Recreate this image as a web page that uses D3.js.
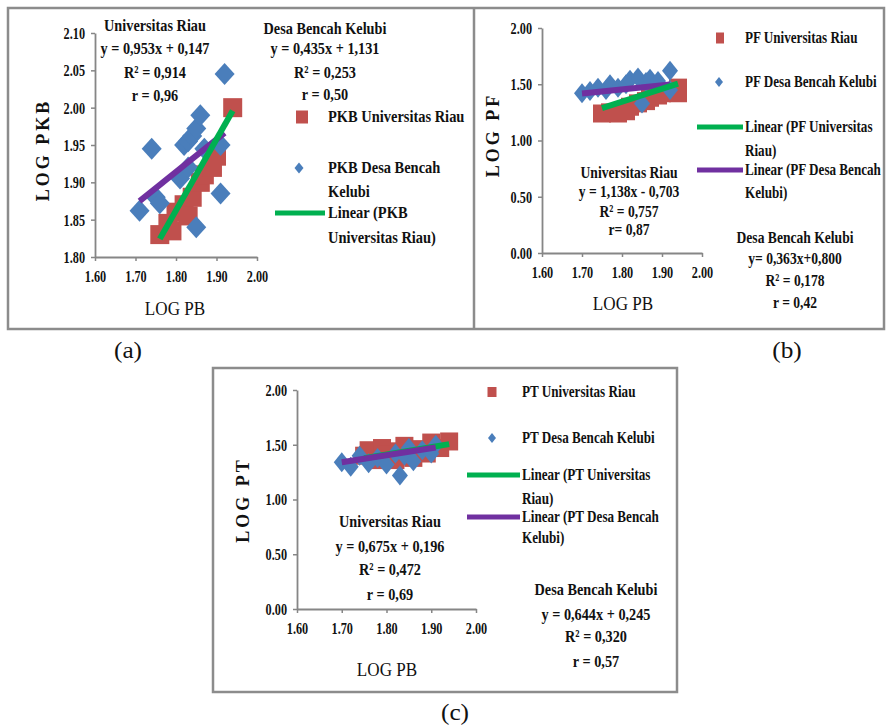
<!DOCTYPE html>
<html><head><meta charset="utf-8">
<script src="https://cdn.jsdelivr.net/npm/d3@7"></script>
<style>
body{margin:0;background:#fff}
svg{display:block}
text{font-family:"Liberation Serif","Times New Roman",serif;fill:#111}
</style>
</head><body>
<svg id="chart" width="888" height="726"></svg>
<script>
// ---------- DATA ----------
const xTicks = [1.60, 1.70, 1.80, 1.90, 2.00];
const yTicksA = [1.80, 1.85, 1.90, 1.95, 2.00, 2.05, 2.10];
const yTicksBC = [0.00, 0.50, 1.00, 1.50, 2.00];

// (a) LOG PKB vs LOG PB
const pkbRiau = [[1.76,1.83],[1.78,1.845],[1.79,1.835],[1.80,1.86],[1.82,1.87],[1.83,1.855],[1.84,1.88],[1.86,1.90],[1.87,1.91],[1.89,1.92],[1.90,1.935],[1.94,2.00]];
const pkbDesa = [[1.71,1.862],[1.74,1.945],[1.75,1.88],[1.76,1.872],[1.81,1.905],[1.82,1.95],[1.83,1.955],[1.84,1.962],[1.85,1.972],[1.86,1.99],[1.85,1.84],[1.87,1.945],[1.91,1.95],[1.91,1.885],[1.92,2.045],[1.83,1.92]];
const fitPkbRiau = [0.953, 0.147];
const fitPkbDesa = [0.435, 1.131];

// (b) LOG PF vs LOG PB
const pfRiau = [[1.75,1.24],[1.77,1.25],[1.79,1.24],[1.81,1.26],[1.82,1.30],[1.84,1.33],[1.86,1.35],[1.87,1.38],[1.89,1.40],[1.90,1.42],[1.94,1.47],[1.94,1.42]];
const pfDesa = [[1.70,1.42],[1.72,1.44],[1.74,1.47],[1.76,1.45],[1.77,1.50],[1.79,1.47],[1.81,1.50],[1.82,1.54],[1.84,1.56],[1.85,1.33],[1.86,1.52],[1.87,1.55],[1.89,1.53],[1.92,1.62],[1.92,1.45]];
const fitPfRiau = [1.138, -0.703];
const fitPfDesa = [0.363, 0.800];

// (c) LOG PT vs LOG PB
const ptRiau = [[1.75,1.40],[1.76,1.45],[1.78,1.36],[1.79,1.47],[1.80,1.41],[1.82,1.36],[1.83,1.44],[1.84,1.49],[1.86,1.38],[1.87,1.46],[1.89,1.42],[1.90,1.52],[1.92,1.47],[1.94,1.53]];
const ptDesa = [[1.70,1.34],[1.72,1.30],[1.74,1.40],[1.76,1.33],[1.78,1.38],[1.80,1.32],[1.82,1.42],[1.83,1.22],[1.84,1.40],[1.85,1.47],[1.86,1.35],[1.88,1.45],[1.90,1.42],[1.91,1.50]];
const fitPtRiau = [0.675, 0.196];
const fitPtDesa = [0.644, 0.245];

// ---------- STYLE ----------
const RED = "#C0504D", BLUE = "#4A7EBB", GREEN = "#00B050", PURPLE = "#7030A0";
const AXIS = "#868686", FRAME = "#8c8c8c";

const svg = d3.select("#chart");

function T(x, y, s, o = {}) {
  return svg.append("text")
    .attr("transform", `translate(${x},${y}) ${o.rot ? "rotate(-90)" : ""} scale(${o.sx || 0.9},1)`)
    .attr("text-anchor", o.anchor || "middle")
    .style("font-size", (o.size || 17) + "px")
    .style("font-weight", o.bold ? "bold" : "normal")
    .style("letter-spacing", o.ls ? o.ls + "px" : null)
    .text(s);
}

// frames
svg.append("rect").attr("x", 8).attr("y", 8).attr("width", 876).attr("height", 321)
  .attr("fill", "none").attr("stroke", FRAME).attr("stroke-width", 2.5);
svg.append("line").attr("x1", 474).attr("x2", 474).attr("y1", 8).attr("y2", 329)
  .attr("stroke", FRAME).attr("stroke-width", 2.5);
svg.append("rect").attr("x", 213).attr("y", 368).attr("width", 464).attr("height", 324)
  .attr("fill", "none").attr("stroke", FRAME).attr("stroke-width", 2.5);

const diamond = (w, h) => `M0,${-h}L${w},0L0,${h}L${-w},0Z`;

function panel(c) {
  const x = d3.scaleLinear().domain([1.6, 2.0]).range(c.xr);
  const y = d3.scaleLinear().domain(c.yd).range(c.yr);
  const g = svg.append("g");

  const fmt = d3.format(".2f");
  const ax = g.append("g").attr("transform", `translate(0,${c.yr[0]})`)
    .call(d3.axisBottom(x).tickValues(xTicks).tickFormat(fmt).tickSize(4).tickSizeOuter(0).tickPadding(9));
  const ay = g.append("g").attr("transform", `translate(${c.xr[0]},0)`)
    .call(d3.axisLeft(y).tickValues(c.yt).tickFormat(fmt).tickSize(4).tickSizeOuter(0).tickPadding(6));
  [ax, ay].forEach(a => {
    a.select(".domain").attr("stroke", AXIS).attr("stroke-width", 1.8);
    a.selectAll(".tick line").attr("stroke", AXIS).attr("stroke-width", 1.5);
    a.selectAll(".tick text").attr("fill", "#111")
      .style("font-family", '"Liberation Serif","Times New Roman",serif')
      .style("font-size", "17px").style("font-weight", "bold")
      .attr("transform", "scale(0.72,1)");
  });
  ay.selectAll(".tick text").attr("x", -10 / 0.72);

  // points: Universitas Riau (squares) then Desa (diamonds)
  const s = c.sq;
  g.append("g").selectAll("rect").data(c.riau).join("rect")
    .attr("x", d => x(d[0]) - s / 2).attr("y", d => y(d[1]) - s / 2)
    .attr("width", s).attr("height", s).attr("fill", RED);
  g.append("g").selectAll("path").data(c.desa).join("path")
    .attr("d", diamond(c.dw, c.dh)).attr("transform", d => `translate(${x(d[0])},${y(d[1])})`)
    .attr("fill", BLUE);

  // trendlines
  const fitLine = (data, f, col) => {
    const ext = d3.extent(data, d => d[0]);
    const pts = ext.map(v => [v, f[0] * v + f[1]]);
    g.append("path").datum(pts)
      .attr("d", d3.line().x(d => x(d[0])).y(d => y(d[1])))
      .attr("stroke", col).attr("stroke-width", 6).attr("fill", "none");
  };
  if (c.greenOnTop) {
    fitLine(c.desa, c.fitD, PURPLE);
    fitLine(c.riau, c.fitR, GREEN);
  } else {
    fitLine(c.riau, c.fitR, GREEN);
    fitLine(c.desa, c.fitD, PURPLE);
  }
}

panel({ xr: [95, 257], yr: [257, 33], yd: [1.8, 2.1], yt: yTicksA, sq: 19, dw: 10, dh: 11,
  riau: pkbRiau, desa: pkbDesa, fitR: fitPkbRiau, fitD: fitPkbDesa, greenOnTop: true });
panel({ xr: [542, 702], yr: [253, 28], yd: [0, 2], yt: yTicksBC, sq: 18, dw: 8, dh: 10,
  riau: pfRiau, desa: pfDesa, fitR: fitPfRiau, fitD: fitPfDesa, greenOnTop: true });
panel({ xr: [297, 476], yr: [609, 390], yd: [0, 2], yt: yTicksBC, sq: 18, dw: 8, dh: 10,
  riau: ptRiau, desa: ptDesa, fitR: fitPtRiau, fitD: fitPtDesa, greenOnTop: false });

// axis titles
T(175, 315, "LOG PB", { size: 18, sx: 0.95 });
T(623, 310, "LOG PB", { size: 18, sx: 0.95 });
T(387, 676, "LOG PB", { size: 18, sx: 0.95 });
T(49, 150, "LOG PKB", { rot: true, bold: true, size: 18, sx: 1, ls: 3 });
T(499, 135, "LOG PF", { rot: true, bold: true, size: 18, sx: 1, ls: 3 });
T(249, 500, "LOG PT", { rot: true, bold: true, size: 18, sx: 1, ls: 3 });

// annotations
const ann = (cx, rows, sx) => rows.forEach(d => T(cx, d[1], d[0], { bold: true, size: 17, sx }));
ann(155, [["Universitas Riau", 31], ["y = 0,953x + 0,147", 54], ["R\u00b2 = 0,914", 78], ["r = 0,96", 101]], 0.84);
ann(325, [["Desa Bencah Kelubi", 34], ["y = 0,435x + 1,131", 54], ["R\u00b2 = 0,253", 78], ["r = 0,50", 100]], 0.84);
ann(629, [["Universitas Riau", 178], ["y = 1,138x - 0,703", 197], ["R\u00b2 = 0,757", 217], ["r= 0,87", 235]], 0.8);
ann(795, [["Desa Bencah Kelubi", 243], ["y= 0,363x+0,800", 264], ["R\u00b2 = 0,178", 286], ["r = 0,42", 308]], 0.8);
ann(390, [["Universitas Riau", 527], ["y = 0,675x + 0,196", 552], ["R\u00b2 = 0,472", 575], ["r = 0,69", 600]], 0.84);
ann(596, [["Desa Bencah Kelubi", 595], ["y = 0,644x + 0,245", 620], ["R\u00b2 = 0,320", 642], ["r = 0,57", 667]], 0.84);

// legends
function legend(items) {
  items.forEach(it => {
    if (it.kind === "sq") svg.append("rect").attr("x", it.mx - it.w / 2).attr("y", it.my - it.h / 2)
      .attr("width", it.w).attr("height", it.h).attr("fill", RED);
    if (it.kind === "dm") svg.append("path").attr("d", diamond(it.w / 2, it.h / 2))
      .attr("transform", `translate(${it.mx},${it.my})`).attr("fill", BLUE);
    if (it.kind === "ln") svg.append("line").attr("x1", it.mx).attr("x2", it.mx2)
      .attr("y1", it.my).attr("y2", it.my).attr("stroke", it.col).attr("stroke-width", 5);
    it.lines.forEach((s, i) => T(it.tx, it.ty + i * it.lh, s, { anchor: "start", bold: true, size: it.fs, sx: it.sx }));
  });
}
legend([
  { kind: "sq", mx: 302, my: 117, w: 12, h: 13, tx: 328, ty: 122, lh: 24, fs: 17, sx: 0.85, lines: ["PKB Universitas Riau"] },
  { kind: "dm", mx: 299, my: 168, w: 9, h: 11, tx: 328, ty: 173, lh: 24, fs: 17, sx: 0.85, lines: ["PKB Desa Bencah", "Kelubi"] },
  { kind: "ln", mx: 275, mx2: 325, my: 213, col: GREEN, tx: 328, ty: 218, lh: 25, fs: 17, sx: 0.85, lines: ["Linear (PKB", "Universitas Riau)"] }
]);
legend([
  { kind: "sq", mx: 720, my: 38, w: 8, h: 11, tx: 745, ty: 43, lh: 24, fs: 16, sx: 0.82, lines: ["PF Universitas Riau"] },
  { kind: "dm", mx: 719, my: 82, w: 8, h: 10, tx: 745, ty: 87, lh: 24, fs: 16, sx: 0.82, lines: ["PF Desa Bencah Kelubi"] },
  { kind: "ln", mx: 697, mx2: 743, my: 127, col: GREEN, tx: 745, ty: 132, lh: 24, fs: 16, sx: 0.82, lines: ["Linear (PF Universitas", "Riau)"] },
  { kind: "ln", mx: 697, mx2: 743, my: 170, col: PURPLE, tx: 745, ty: 175, lh: 23, fs: 16, sx: 0.82, lines: ["Linear (PF Desa Bencah", "Kelubi)"] }
]);
legend([
  { kind: "sq", mx: 492, my: 392, w: 9, h: 10, tx: 522, ty: 397, lh: 24, fs: 16, sx: 0.82, lines: ["PT Universitas Riau"] },
  { kind: "dm", mx: 492, my: 438, w: 8, h: 10, tx: 522, ty: 443, lh: 24, fs: 16, sx: 0.82, lines: ["PT Desa Bencah Kelubi"] },
  { kind: "ln", mx: 467, mx2: 520, my: 475, col: GREEN, tx: 522, ty: 480, lh: 24, fs: 16, sx: 0.82, lines: ["Linear (PT Universitas", "Riau)"] },
  { kind: "ln", mx: 467, mx2: 520, my: 517, col: PURPLE, tx: 522, ty: 522, lh: 21, fs: 16, sx: 0.82, lines: ["Linear (PT Desa Bencah", "Kelubi)"] }
]);

// panel captions
T(128, 358, "(a)", { size: 23, sx: 1.1 });
T(787, 358, "(b)", { size: 23, sx: 1.1 });
T(455, 720, "(c)", { size: 23, sx: 1.1 });
</script>
</body></html>
